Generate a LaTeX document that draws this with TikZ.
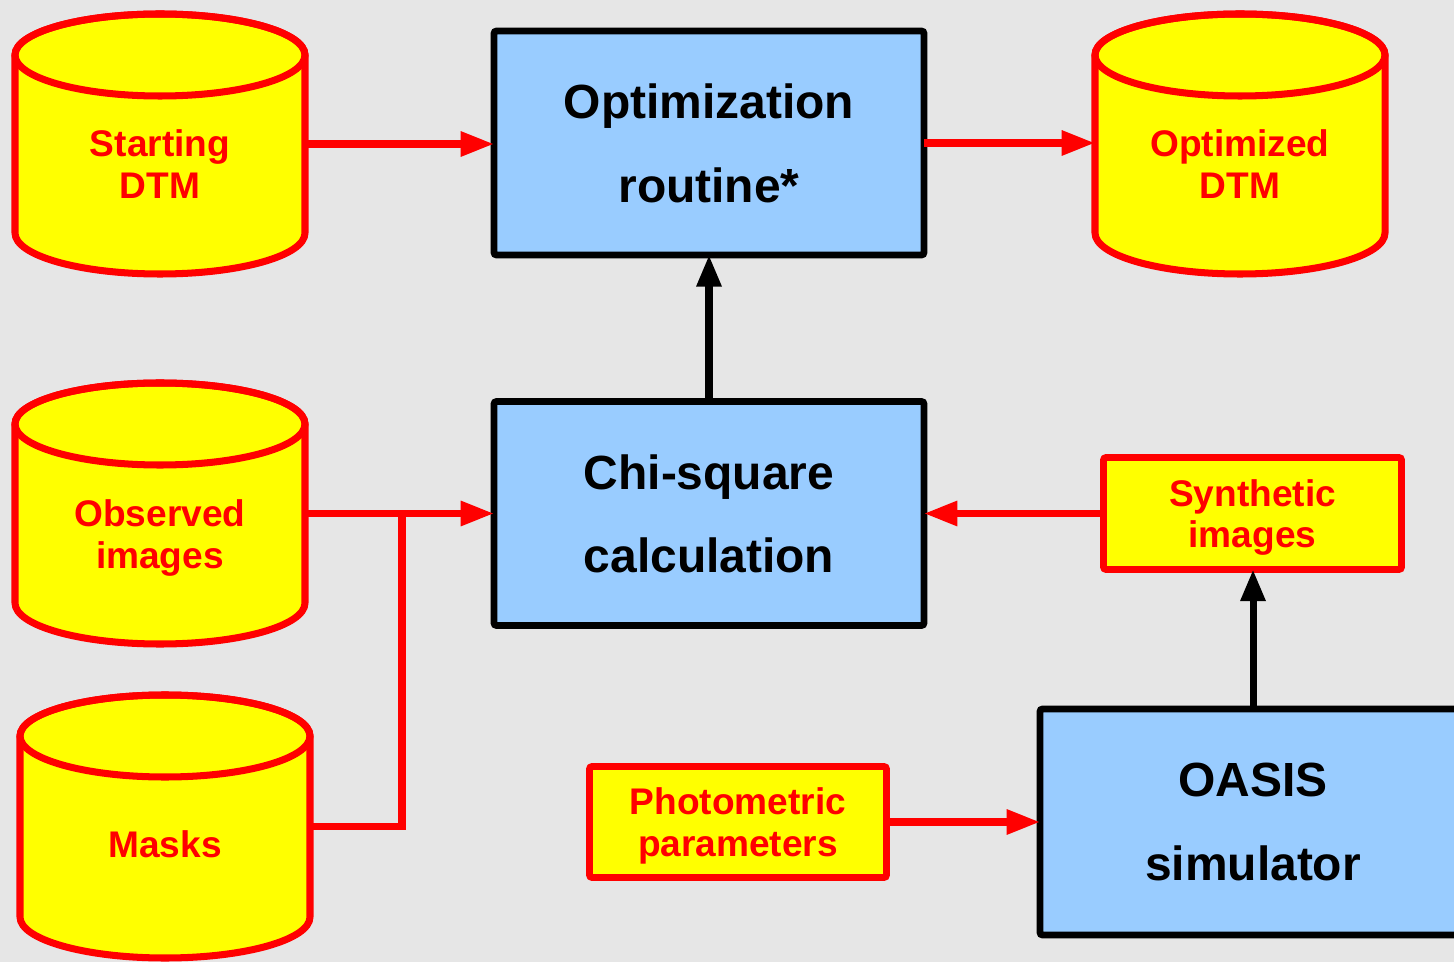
\documentclass[tikz,border=0pt]{standalone}
\usepackage{fontspec}
\setmainfont{Liberation Sans}
\usetikzlibrary{arrows.meta,calc}
\definecolor{bg}{HTML}{E6E6E6}
\definecolor{boxblue}{HTML}{99CCFF}
\definecolor{cylyellow}{HTML}{FFFF00}
\definecolor{linered}{HTML}{FF0000}
\newcommand\pxu{0.02cm}
\newcommand\bluefont{\fontsize{27.3}{47.6}\selectfont\bfseries}
\newcommand\redfont{\fontsize{21.1}{23.8}\selectfont\bfseries}
\newcommand\dbcyl[4]{% name, cx, ytop, ybottom
  \path[cylbody] (#2-145,#3) -- (#2-145,#4)
    arc[start angle=180,end angle=0,x radius=145,y radius=41]
    -- (#2+145,#3)
    arc[start angle=0,end angle=-180,x radius=145,y radius=41] -- cycle;
  \draw[cyllid] (#2,#3) ellipse[x radius=145,y radius=41];
  \node[cylnode,minimum height={(#4-#3)*0.02cm}] (#1) at (#2,{(#3+#4)/2}) {};
}
\tikzset{
  cylbody/.style={draw=linered,fill=cylyellow,line width=4pt,line join=round},
  cyllid/.style={draw=linered,line width=4pt},
  cylnode/.style={minimum width=290*0.02cm,inner sep=0pt,outer sep=0pt},
  cyltext/.style={font=\redfont,text=linered,align=center,inner sep=0pt},
  bluebox/.style={draw=black,fill=boxblue,line width=3.9pt,rounded corners=1.5pt,
    outer sep=0pt,inner sep=0pt,font=\bluefont,align=center},
  redbox/.style={draw=linered,fill=cylyellow,line width=3.9pt,rounded corners=1.5pt,
    outer sep=0pt,inner sep=0pt,font=\redfont,text=linered,align=center},
  redarrow/.style={draw=linered,line width=4pt,-{Triangle[length=19pt,width=13.5pt]}},
  redline/.style={draw=linered,line width=4pt},
  blackarrow/.style={draw=black,line width=4pt,-{Triangle[length=18pt,width=13.5pt]}},
}
\begin{document}
\begin{tikzpicture}[x=0.02cm,y=-0.02cm]
\useasboundingbox (0,0) rectangle (1454,962);
\clip (0,0) rectangle (1454,962);
\fill[bg] (0,0) rectangle (1454,962);

% databases
\dbcyl{sdtm}{160}{55}{233}
\dbcyl{odtm}{1240}{55}{233}
\dbcyl{obs}{160}{424}{603}
\dbcyl{masks}{165}{736}{917}
\node[cyltext] (sdtmtext) at (160,164) {Starting\\\smash{DTM}};
\node[cyltext] (odtmtext) at (1240,164) {Optimized\\\smash{DTM}};
\node[cyltext] (obstext) at (160,534) {Observed\\\smash{images}};
\node[cyltext] (maskstext) at (165,845) {\smash{Masks}\vphantom{M}};

% process boxes
\node[bluebox,minimum width=430*0.02cm,minimum height=224*0.02cm] (opt) at (709,143)
  {Optimization\\\smash{routine*}};
\node[bluebox,minimum width=430*0.02cm,minimum height=224*0.02cm] (chi) at (709,513.5)
  {Chi-square\\\smash{calculation}};
\node[bluebox,minimum width=426*0.02cm,minimum height=226*0.02cm] (oasis) at (1253,822)
  {OASIS\\\smash{simulator}};
\node[redbox,minimum width=298*0.02cm,minimum height=112*0.02cm] (synth) at (1252.5,513.5)
  {Synthetic\\\smash{images}};
\node[redbox,minimum width=297*0.02cm,minimum height=111*0.02cm] (photo) at (738,822)
  {Photometric\\\smash{parameters}};

% connectors
\coordinate (join) at (402,513.5);
\draw[redarrow] (sdtm.east) -- (sdtm.east -| opt.west);
\draw[redarrow] (opt.east) -- (opt.east -| odtm.west);
\draw[blackarrow] (chi.north) -- (opt.south);
\draw[redarrow] (obs.east) -- (obs.east -| chi.west);
\draw[redline] (masks.east) -| (join);
\draw[redarrow] (synth.west) -- (chi.east);
\draw[blackarrow] (oasis.north) -- (oasis.north |- synth.south);
\draw[redarrow] (photo.east) -- (photo.east -| oasis.west);
\end{tikzpicture}
\end{document}
